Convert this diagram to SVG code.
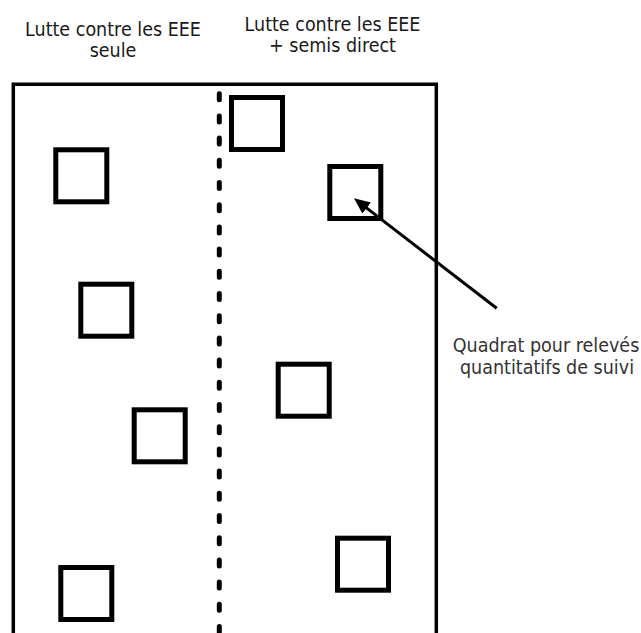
<svg xmlns="http://www.w3.org/2000/svg" width="641" height="633" viewBox="0 0 641 633">
<style>
.t{font-family:"DejaVu Sans Condensed","DejaVu Sans","Liberation Sans",sans-serif;font-stretch:condensed;font-size:19.5px;text-anchor:middle;fill:#1a1a1a}
.q{fill:#333}
.sq{fill:none;stroke:#000;stroke-width:5}
.frame{fill:none;stroke:#000;stroke-width:3.5;stroke-linejoin:miter}
.div{fill:none;stroke:#000;stroke-width:5;stroke-linecap:round;stroke-dasharray:6 16.2}
.arr{fill:none;stroke:#000;stroke-width:3}
</style>
<defs>
<marker id="ah" markerUnits="userSpaceOnUse" viewBox="0 0 16 14" markerWidth="16" markerHeight="14" refX="6" refY="7" orient="auto">
<path d="M0,0 L16,7 L0,14 z" fill="#000"/>
</marker>
</defs>
<rect width="641" height="633" fill="#fff"/>
<g id="plot">
<path class="frame" d="M13.3,640 V84.3 H436.3 V640"/>
<path class="div" d="M219.3,93.7 V640"/>
</g>
<g id="label-left">
<text class="t" x="113" y="36">Lutte contre les EEE</text>
<text class="t" x="113" y="57">seule</text>
</g>
<g id="label-right">
<text class="t" x="332.5" y="31">Lutte contre les EEE</text>
<text class="t" x="332.5" y="52">+ semis direct</text>
</g>
<g id="q1"><rect class="sq" x="55.8" y="149.8" width="51" height="52"/></g>
<g id="q2"><rect class="sq" x="231.5" y="97.5" width="51" height="52"/></g>
<g id="q3"><rect class="sq" x="329.8" y="166.5" width="51" height="52"/></g>
<g id="q4"><rect class="sq" x="80.8" y="284.2" width="51" height="52"/></g>
<g id="q5"><rect class="sq" x="134.2" y="409.8" width="51" height="52"/></g>
<g id="q6"><rect class="sq" x="278.2" y="364.2" width="51" height="52"/></g>
<g id="q7"><rect class="sq" x="60.8" y="567.5" width="51" height="52"/></g>
<g id="q8"><rect class="sq" x="337.5" y="538.2" width="51" height="52"/></g>
<g id="label-quadrat">
<text class="t q" x="546" y="351.7">Quadrat pour relevés</text>
<text class="t q" x="547" y="373.5">quantitatifs de suivi</text>
</g>
<g id="connectors">
<line class="arr" x1="496.7" y1="308.3" x2="361.9" y2="204.4" marker-end="url(#ah)"/>
</g>
</svg>
